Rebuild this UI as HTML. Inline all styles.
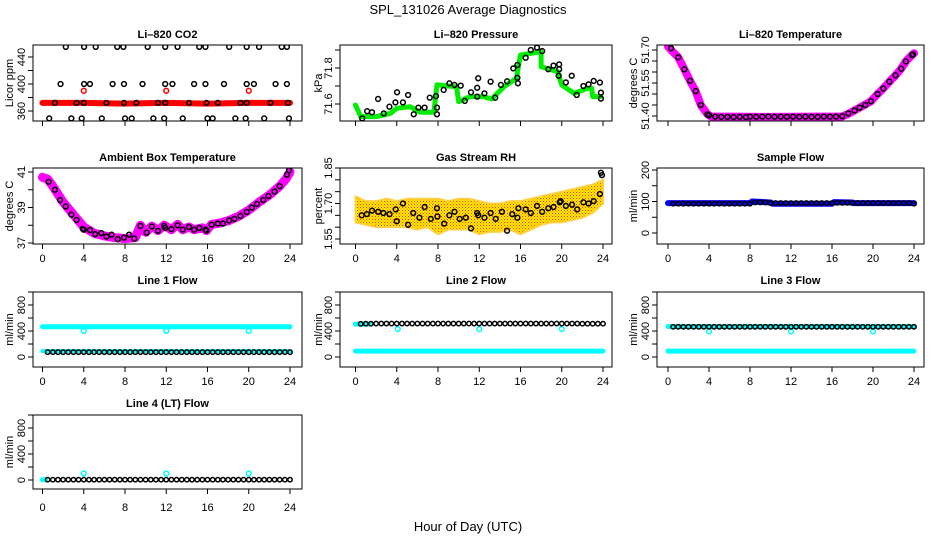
<!DOCTYPE html>
<html><head><meta charset="utf-8"><style>
html,body{margin:0;padding:0;background:#fff;}
svg{display:block;font-family:"Liberation Sans",Arial,sans-serif;}
</style></head><body>
<svg id="c" width="936" height="540" viewBox="0 0 936 540">
<defs>
<pattern id="rhpat" width="3" height="3" patternUnits="userSpaceOnUse">
<rect width="3" height="3" fill="#ffee00"/><rect x="0" y="0" width="1" height="1" fill="#ff3000"/><rect x="1.5" y="1.5" width="1" height="1" fill="#ff6000"/>
</pattern>
</defs>
<text x="468" y="14" text-anchor="middle" font-size="13">SPL_131026  Average Diagnostics</text>
<text x="468" y="531" text-anchor="middle" font-size="13">Hour of Day (UTC)</text>
</svg>
<script>
// ---------- data ----------
const co2Red = [[0,372],[4,372],[8,371],[12,372],[16,371],[20,372],[24,372]];
const co2RedPts = [[4,390],[12,390],[20,390]];
const co2Top = [2.26,4.03,5.16,7.25,7.84,10.2,11.9,13.1,15.2,15.8,18.1,19.8,21,23.2,23.7];
const co2Mid = [1.75,4.03,4.6,6.8,7.9,9.7,11.9,12.6,14.7,15.8,17.6,19.8,20.5,22.6,23.7];
const co2Base = [1.2,3.3,4.0,6.2,7.9,9.1,11.2,11.9,14.2,15.9,17.0,19.2,19.8,22.1,23.8];
const co2Low = [0.65,2.8,3.8,5.75,8.0,8.65,10.75,11.8,13.6,16.0,16.5,18.7,19.7,21.5,23.9];
const co2Levels = [455,400,372,349];

const presGreen = [[0,71.594],[0.5,71.53],[2,71.53],[3.4,71.548],[4,71.576],[5.3,71.585],[6.3,71.554],[7.6,71.554],[7.9,71.706],[9.8,71.696],[10,71.613],[11.1,71.641],[12.4,71.641],[13.2,71.628],[14.4,71.696],[15.6,71.743],[16,71.872],[18,71.891],[18,71.807],[19.6,71.78],[20,71.706],[21.2,71.659],[22.5,71.687],[22.9,71.687],[23,71.641],[23.8,71.641]];
const presBlack = [[0.65,71.52],[1.13,71.56],[1.6,71.554],[2.19,71.628],[2.74,71.548],[3.29,71.585],[3.87,71.609],[4.03,71.665],[4.6,71.609],[5.1,71.65],[5.65,71.543],[6.1,71.58],[6.7,71.58],[7.2,71.635],[7.8,71.644],[7.9,71.58],[7.9,71.543],[8.55,71.678],[9.1,71.715],[9.6,71.706],[10.2,71.702],[10.6,71.617],[11.2,71.665],[11.8,71.641],[11.8,71.69],[11.9,71.743],[12.5,71.659],[13.1,71.724],[13.55,71.635],[14.1,71.706],[14.7,71.726],[15.3,71.798],[15.7,71.817],[15.7,71.746],[15.75,71.715],[16.5,71.857],[17.0,71.9],[17.6,71.913],[18.1,71.894],[18.7,71.793],[19.2,71.813],[19.75,71.82],[19.75,71.793],[19.7,71.757],[20.4,71.72],[20.97,71.757],[21.45,71.65],[22.1,71.7],[22.6,71.709],[23.1,71.728],[23.7,71.719],[23.8,71.63],[23.8,71.663]];

const tempMag = [[0,51.715],[0.5,51.69],[1,51.667],[1.6,51.612],[2.15,51.56],[2.7,51.513],[3.2,51.45],[3.85,51.408],[4.2,51.398],[10,51.396],[17,51.398],[17.6,51.41],[18.7,51.438],[19.8,51.467],[20.45,51.5],[21,51.525],[21.6,51.556],[22.2,51.585],[22.75,51.615],[23.2,51.648],[23.8,51.677],[24,51.685]];
const tempBlack = [[0.3,51.708],[1,51.667],[1.6,51.612],[2.15,51.56],[2.7,51.513],[3.2,51.45],[3.85,51.408],[4.0,51.403],[4.6,51.397],[5.2,51.396],[5.8,51.396],[6.4,51.395],[7.0,51.396],[7.6,51.395],[8.0,51.397],[8.6,51.396],[9.2,51.397],[9.8,51.398],[10.4,51.396],[11.0,51.397],[11.6,51.396],[12.2,51.397],[12.8,51.396],[13.4,51.397],[14.0,51.396],[14.6,51.396],[15.2,51.397],[15.8,51.397],[16.4,51.397],[17.0,51.399],[17.6,51.412],[18.2,51.425],[18.7,51.438],[19.25,51.45],[19.8,51.467],[20.45,51.5],[21,51.525],[21.6,51.556],[22.2,51.585],[22.75,51.615],[23.2,51.648],[23.8,51.677],[23.9,51.68]];

const ambMag = [[0,40.7],[0.5,40.6],[1,40.2],[2,39.3],[3,38.6],[4,37.9],[5,37.55],[6,37.4],[7,37.3],[8,37.25],[9,37.3],[9.5,38.0],[10,37.6],[10.6,37.95],[11.2,37.7],[11.8,38.0],[12.5,37.75],[13.1,38.05],[13.6,37.75],[14.2,37.9],[14.7,37.75],[15.5,37.85],[15.9,37.7],[16.4,38.05],[17,38.1],[18,38.25],[19,38.5],[20,38.85],[21,39.3],[22,39.7],[23,40.2],[23.6,40.6],[24,41.0]];
const ambBlack = [[0.6,40.45],[1.2,40.0],[1.7,39.42],[2.25,39.06],[2.8,38.6],[3.3,38.3],[3.9,37.8],[4.0,37.75],[4.6,37.73],[5.1,37.5],[5.7,37.56],[6.2,37.36],[6.7,37.47],[7.3,37.22],[7.9,37.3],[8.4,37.47],[8.9,37.25],[9.5,37.96],[10.1,37.58],[10.6,37.93],[11.2,37.69],[11.8,37.96],[11.9,37.85],[12.5,37.78],[13.1,38.0],[13.6,37.75],[14.2,37.9],[14.7,37.75],[15.2,37.85],[15.8,37.75],[15.9,37.7],[16.4,38.03],[17.0,38.1],[17.5,38.1],[18.1,38.27],[18.6,38.36],[19.2,38.52],[19.8,38.75],[20.3,39.0],[20.8,39.2],[21.4,39.42],[21.9,39.65],[22.5,39.9],[23.0,40.2],[23.7,40.85],[23.9,41.1]];

const rhHours = [0,1,2,3,4,5,6,7,8,9,10,11,12,13,14,15,16,17,18,19,20,21,22,23,24];
const rhLow = [1.62,1.61,1.60,1.60,1.60,1.60,1.59,1.60,1.57,1.59,1.59,1.59,1.57,1.58,1.58,1.59,1.57,1.59,1.61,1.62,1.62,1.63,1.64,1.66,1.70];
const rhHigh = [1.73,1.71,1.71,1.72,1.71,1.72,1.72,1.72,1.72,1.71,1.72,1.72,1.71,1.70,1.70,1.71,1.71,1.72,1.73,1.74,1.75,1.76,1.77,1.78,1.80];
const rhBlack = [[0.6,1.65],[1.1,1.655],[1.6,1.67],[2.2,1.665],[2.7,1.66],[3.3,1.655],[3.9,1.675],[4.0,1.625],[4.6,1.70],[5.1,1.61],[5.6,1.66],[6.2,1.64],[6.7,1.685],[7.3,1.635],[7.9,1.68],[7.95,1.645],[8.6,1.615],[9.1,1.65],[9.6,1.665],[10.1,1.635],[10.7,1.64],[11.2,1.595],[11.8,1.66],[11.9,1.65],[12.5,1.64],[13.1,1.66],[13.6,1.635],[14.2,1.665],[14.7,1.585],[15.2,1.655],[15.7,1.64],[15.8,1.68],[16.5,1.675],[17.0,1.66],[17.6,1.69],[18.1,1.665],[18.7,1.68],[19.2,1.685],[19.8,1.705],[19.9,1.71],[20.4,1.69],[21.0,1.695],[21.5,1.675],[22.1,1.705],[22.6,1.70],[23.1,1.71],[23.7,1.74],[23.8,1.83],[23.9,1.82]];

const sampleBlue = [[0,95],[8,95],[8.2,100],[10,97],[10.2,93],[16,93],[16.2,98],[18,97],[18.2,95],[24,95]];
const halfHours = [0.5,1,1.5,2,2.5,3,3.5,4,4.5,5,5.5,6,6.5,7,7.5,8,8.5,9,9.5,10,10.5,11,11.5,12,12.5,13,13.5,14,14.5,15,15.5,16,16.5,17,17.5,18,18.5,19,19.5,20,20.5,21,21.5,22,22.5,23,23.5,24];
const sampleBlack = [93,93,93,93,93,93,93,93,93,93,93,93,93,93,93,93,97,97,97,95,95,95,95,95,95,95,95,95,95,95,95,95,96,96,96,95,95,95,95,95,95,95,95,95,95,95,95,93];
const line1Black = [75,75,75,75,75,75,75,75,75,75,75,75,75,75,75,75,75,75,75,75,75,75,75,75,75,75,75,75,75,75,75,75,75,75,75,75,75,75,75,75,75,75,75,75,75,75,75,75];
const line2Black = [510,512,512,515,515,515,515,515,515,515,515,515,515,515,515,515,515,515,515,515,515,515,515,515,515,515,515,515,515,515,515,515,515,515,515,515,515,515,515,515,515,515,515,512,512,512,512,512];
const line3Black = [465,465,465,465,465,465,465,465,465,465,465,465,465,465,465,465,465,465,465,465,465,465,465,465,465,465,465,465,465,465,465,465,465,465,465,465,465,465,465,465,465,465,465,465,465,465,465,465];
const line4Black = [5,5,5,5,5,5,5,5,5,5,5,5,5,5,5,5,5,5,5,5,5,5,5,5,5,5,5,5,5,5,5,5,5,5,5,5,5,5,5,5,5,5,5,5,5,5,5,5];
const line1CyanHi = [[0,465],[24,465]];
const line1CyanLo = [[0,90],[24,90]];
const line1CyanPts = [[4,400],[12,400],[20,400]];
const line2CyanHi = [[0,505],[1.5,505]];
const line2CyanLo = [[0,90],[24,90]];
const line2CyanPts = [[4.1,430],[12,430],[20,430]];
const line3CyanHi = [[0,470],[24,470]];
const line3CyanLo = [[0,90],[24,90]];
const line3CyanPts = [[4,395],[12,395],[20,395]];
const line4CyanLo = [[0,3],[0.3,3]];
const line4CyanPts = [[4,100],[12,100],[20,100]];
const xTicks = [0,4,8,12,16,20,24];

// ---------- drawing ----------
const svg = document.getElementById('c');
const NS = 'http://www.w3.org/2000/svg';
function mk(tag, attrs, parent){
  const e = document.createElementNS(NS, tag);
  for (const k in attrs) e.setAttribute(k, attrs[k]);
  (parent||svg).appendChild(e);
  return e;
}
const COLS = [{b0:33,b1:302,t0:42.5,t24:290,yl:9},{b0:340,b1:612,t0:355.5,t24:603,yl:318},{b0:657,b1:924,t0:668,t24:914,yl:633}];
const ROWS = [{top:45,bot:121,title:38,lab:null},{top:168,bot:244,title:161,lab:262},{top:292,bot:367,title:284,lab:385},{top:415,bot:489,title:407,lab:511}];

function panel(name, row, col, title, ylab, cal, ticks, labels){
  const R = ROWS[row], C = COLS[col];
  const g = mk('g', {});
  
  
  const xs = t => C.t0 + t*(C.t24-C.t0)/24;
  const k = (cal[3]-cal[1])/(cal[2]-cal[0]);
  const ys = v => cal[1] + (v-cal[0])*k;
  const t = mk('text', {x:(C.b0+C.b1)/2, y:R.title, 'text-anchor':'middle', 'font-size':11, 'font-weight':'bold'}, g);
  t.textContent = title;
  
  
  const yl = mk('text', {x:C.yl, y:(R.top+R.bot)/2, 'text-anchor':'middle', 'font-size':11, transform:`rotate(-90 ${C.yl} ${(R.top+R.bot)/2})`, dy:'0.35em'}, g);
  yl.textContent = ylab;
  
  
  const clip = mk('clipPath', {id:'cl-'+name}, g);
  mk('rect', {x:C.b0, y:R.top, width:C.b1-C.b0, height:R.bot-R.top}, clip);
  const plot = mk('g', {'clip-path':`url(#cl-${name})`}, g);
  
  
  const box = mk('rect', {x:C.b0, y:R.top, width:C.b1-C.b0, height:R.bot-R.top, fill:'none', stroke:'#000', 'stroke-width':1}, g);
  
  
  mk('line', {x1:xs(0), x2:xs(24), y1:R.bot, y2:R.bot, stroke:'#000'}, g);
  xTicks.forEach(v => {
    mk('line', {x1:xs(v), x2:xs(v), y1:R.bot, y2:R.bot+5, stroke:'#000'}, g);
    if (R.lab) {
      const l = mk('text', {x:xs(v), y:R.lab, 'text-anchor':'middle', 'font-size':11}, g);
      l.textContent = v;
      
      
    }
  });
  mk('line', {x1:C.b0, x2:C.b0, y1:ys(ticks[0]), y2:ys(ticks[ticks.length-1]), stroke:'#000'}, g);
  ticks.forEach(v => mk('line', {x1:C.b0-5, x2:C.b0, y1:ys(v), y2:ys(v), stroke:'#000'}, g));
  labels.forEach(v => {
    const x = C.b0-12, y = ys(v);
    const l = mk('text', {x:x, y:y, 'text-anchor':'middle', 'font-size':11, dy:'0.35em', transform:`rotate(-90 ${x} ${y})`}, g);
    l.textContent = v;
    
    
  });
  return {
    line(pts, color, w, nm){
      const p = mk('polyline', {points:pts.map(d=>xs(d[0])+','+ys(d[1])).join(' '), fill:'none', stroke:color, 'stroke-width':w, 'stroke-linejoin':'round', 'stroke-linecap':'round'}, plot);
      
      
    },
    band(hrs, lo, hi, nm){
      const pts = hrs.map((h,i)=>xs(h)+','+ys(hi[i])).concat(hrs.slice().reverse().map((h,i)=>xs(h)+','+ys(lo[hrs.length-1-i])));
      const p = mk('polygon', {points:pts.join(' '), fill:'url(#rhpat)', stroke:'#ffd040', 'stroke-width':2, 'stroke-linejoin':'round'}, plot);
      
      
    },
    pts(pts, color, nm, r){
      pts.forEach(d => {
        const c = mk('circle', {cx:xs(d[0]), cy:ys(d[1]), r:r||2.4, fill:'none', stroke:color, 'stroke-width':1.5}, plot);
        
        
      });
    }
  };
}
const zip = (ts, vs) => ts.map((t,i)=>[t, vs[i]]);
const flat = (ts, v) => ts.map(t=>[t, v]);

let p = panel('co2', 0, 0, 'Li\u2013820 CO2', 'Licor ppm', [360,111,440,57], [360,380,400,420,440], [360,400,440]);
p.line(co2Red, '#ff0000', 6, 'co2-red-series');
p.pts(co2RedPts, '#ff0000', 'co2-red-point');
p.pts(flat(co2Top, co2Levels[0]), '#000', 'co2-black-point');
p.pts(flat(co2Mid, co2Levels[1]), '#000', 'co2-black-point');
p.pts(flat(co2Base, co2Levels[2]), '#000', 'co2-black-point');
p.pts(flat(co2Low, co2Levels[3]), '#000', 'co2-black-point');

p = panel('pressure', 0, 1, 'Li\u2013820 Pressure', 'kPa', [71.6,104,71.8,68], [71.6,71.7,71.8,71.9], ['71.6','71.8']);
p.line(presGreen, '#00ee00', 5, 'pressure-green-series');
p.pts(presBlack, '#000', 'pressure-black-point');

p = panel('temperature', 0, 2, 'Li\u2013820 Temperature', 'degrees C', [51.40,116,51.70,50], [51.40,51.45,51.50,51.55,51.60,51.65,51.70], ['51.40','51.55','51.70']);
p.line(tempMag, '#ff00ff', 8, 'temperature-magenta-series');
p.pts(tempBlack, '#000', 'temperature-black-point');

p = panel('ambient', 1, 0, 'Ambient Box Temperature', 'degrees C', [37,243,41,172], [37,38,39,40,41], [37,39,41]);
p.line(ambMag, '#ff00ff', 9, 'ambient-magenta-series');
p.pts(ambBlack, '#000', 'ambient-black-point');

p = panel('rh', 1, 1, 'Gas Stream RH', 'percent', [1.55,239,1.85,168], [1.55,1.60,1.65,1.70,1.75,1.80,1.85], ['1.55','1.70','1.85']);
p.band(rhHours, rhLow, rhHigh, 'rh-scatter-band');
p.pts(rhBlack, '#000', 'rh-black-point');

p = panel('sample-flow', 1, 2, 'Sample Flow', 'ml/min', [0,233,200,170], [0,50,100,150,200], [0,100,200]);
p.line(sampleBlue, '#0000ff', 6, 'sample-flow-blue-series');
p.pts(zip(halfHours, sampleBlack), '#000', 'sample-flow-black-point', 2.2);

const fT = [0,200,400,600,800,1000], fL = [0,400,800];
p = panel('line1-flow', 2, 0, 'Line 1 Flow', 'ml/min', [0,357,800,305], fT, fL);
p.line(line1CyanHi, '#00ffff', 5, 'line1-cyan-high');
p.line(line1CyanLo, '#00ffff', 4, 'line1-cyan-low');
p.pts(line1CyanPts, '#00ffff', 'line1-cyan-point');
p.pts(zip(halfHours, line1Black), '#000', 'line1-black-point', 2.2);

p = panel('line2-flow', 2, 1, 'Line 2 Flow', 'ml/min', [0,357,800,305], fT, fL);
p.line(line2CyanHi, '#00ffff', 5, 'line2-cyan-high');
p.line(line2CyanLo, '#00ffff', 5, 'line2-cyan-low');
p.pts(line2CyanPts, '#00ffff', 'line2-cyan-point');
p.pts(zip(halfHours, line2Black), '#000', 'line2-black-point', 2.2);

p = panel('line3-flow', 2, 2, 'Line 3 Flow', 'ml/min', [0,357,800,305], fT, fL);
p.line(line3CyanHi, '#00ffff', 5, 'line3-cyan-high');
p.line(line3CyanLo, '#00ffff', 5, 'line3-cyan-low');
p.pts(line3CyanPts, '#00ffff', 'line3-cyan-point');
p.pts(zip(halfHours, line3Black), '#000', 'line3-black-point', 2.2);

p = panel('line4-flow', 3, 0, 'Line 4 (LT) Flow', 'ml/min', [0,480,800,428], fT, fL);
p.line(line4CyanLo, '#00ffff', 5, 'line4-cyan-low');
p.pts(line4CyanPts, '#00ffff', 'line4-cyan-point');
p.pts(zip(halfHours, line4Black), '#000', 'line4-black-point', 2.2);
</script>
</body></html>
